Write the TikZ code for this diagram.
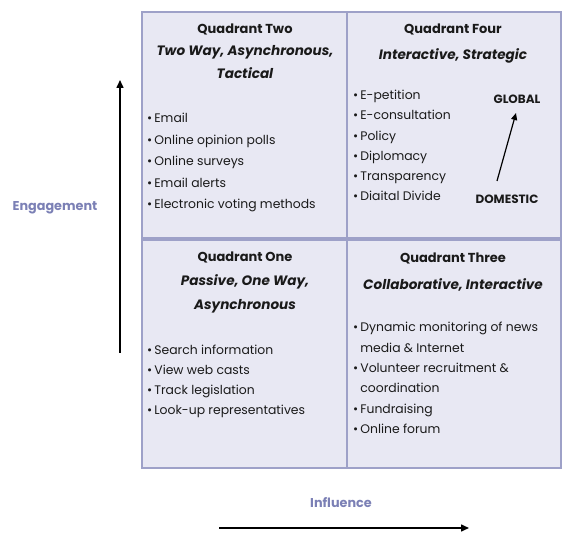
\documentclass[tikz,border=0pt]{standalone}
\usepackage{fontspec}
\setmainfont{Poppins}
\usetikzlibrary{arrows.meta}
\definecolor{qfill}{HTML}{E8E8F3}
\definecolor{qline}{HTML}{9EA1C8}
\definecolor{axislab}{HTML}{7B80B5}
\definecolor{txt}{HTML}{1A1A1A}
\tikzset{
  quad/.style={draw=qline, line width=1.2pt, fill=qfill, inner sep=0pt},
  qtitle/.style={font={\fontsize{13}{24}\selectfont\bfseries}, text=txt, align=center, inner sep=0pt},
  qsub/.style={font={\fontsize{13.6}{23.5}\selectfont\bfseries\itshape}, text=txt, align=center, inner sep=0pt},
  blist/.style={font={\fontsize{12.4}{#1}\selectfont}, text=txt, align=left, anchor=north west, inner sep=0pt},
  bold/.style={font={\fontsize{12}{14}\selectfont\bfseries}, text=txt, inner sep=0pt},
  axlab/.style={font={\fontsize{12.8}{14}\selectfont\bfseries}, text=axislab, inner sep=0pt},
  axarrow/.style={draw=black, line width=1.5pt, -{Triangle[length=8pt,width=7pt]}},
  small/.style={draw=black, line width=1.2pt, -{Triangle[length=7pt,width=6pt]}}
}
\newcommand{\bt}{\textbullet\,}
\newcommand{\bi}{\phantom{\textbullet\,}}
\begin{document}
\begin{tikzpicture}[x=1pt,y=-1pt]
\useasboundingbox (0,0) rectangle (563,534);
% quadrants
\node[quad, minimum width=205pt, minimum height=226pt] (q2) at (244.5,125) {};
\node[quad, minimum width=214pt, minimum height=226pt] (q4) at (454,125) {};
\node[quad, minimum width=205pt, minimum height=228pt] (q1) at (244.5,354) {};
\node[quad, minimum width=214pt, minimum height=228pt] (q3) at (454,354) {};
% Quadrant Two
\node[qtitle] (t2) at (245,29) {Quadrant Two};
\node[qsub] (s2) at (245,62) {Two Way, Asynchronous,\\Tactical};
\node[blist=21.5] (l2) at (147,113) {\bt Email\\\bt Online opinion polls\\\bt Online surveys\\\bt Email alerts\\\bt Electronic voting methods};
% Quadrant Four
\node[qtitle] (t4) at (453,29) {Quadrant Four};
\node[qsub] (s4) at (453,56) {Interactive, Strategic};
\node[blist=20.2] (l4) at (353,90) {\bt E-petition\\\bt E-consultation\\\bt Policy\\\bt Diplomacy\\\bt Transparency\\\bt Diaital Divide};
\node[bold] (glob) at (517,99) {GLOBAL};
\node[bold] (dom) at (507,199) {DOMESTIC};
\coordinate (d0) at (497,181);
\coordinate (g0) at (516,113);
\draw[small] (d0) -- (g0);
% Quadrant One
\node[qtitle] (t1) at (245,257) {Quadrant One};
\node[qsub] (s1) at (245,294) {Passive, One Way,\\Asynchronous};
\node[blist=20] (l1) at (147,345) {\bt Search information\\\bt View web casts\\\bt Track legislation\\\bt Look-up representatives};
% Quadrant Three
\node[qtitle] (t3) at (453,258) {Quadrant Three};
\node[qsub] (s3) at (453,285) {Collaborative, Interactive};
\node[blist=20.4] (l3) at (353,322) {\bt Dynamic monitoring of news\\\bi media \& Internet\\\bt Volunteer recruitment \&\\\bi coordination\\\bt Fundraising\\\bt Online forum};
% axes
\node[axlab] (eng) at (55,208) {Engagement};
\node[axlab] (inf) at (341,503) {Influence};
\coordinate (ea) at (120,353);
\coordinate (eb) at (120,80);
\draw[axarrow] (ea) -- (eb);
\coordinate (ia) at (219,528);
\coordinate (ib) at (469,528);
\draw[axarrow] (ia) -- (ib);
\end{tikzpicture}
\end{document}
